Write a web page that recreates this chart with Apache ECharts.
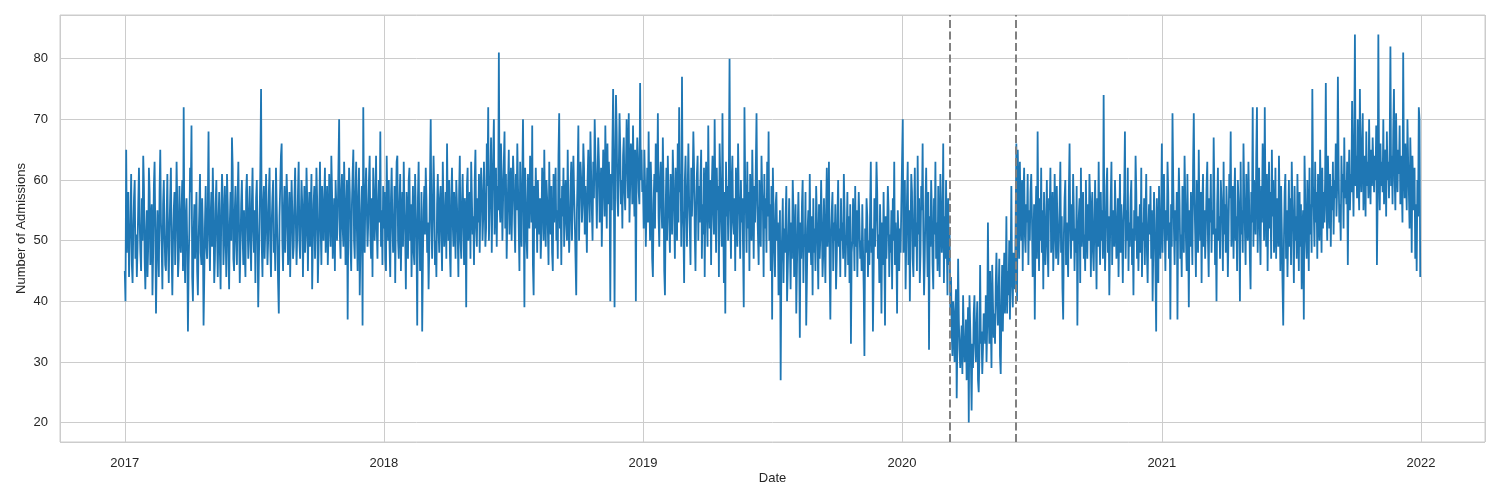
<!DOCTYPE html>
<html>

<head>
  <meta charset="utf-8">
  <title>Admissions</title>
  <script src="https://cdn.jsdelivr.net/npm/echarts@6.0.0/dist/echarts.min.js"></script>
</head>
<style>
  * {
    padding: 0;
    margin: 0;
  }

  #main {
    width: 1500px;
    height: 500px;
    background: #ffffff;
  }
</style>

<body>
  <div id="main"></div>
  <script type="text/javascript">
    // daily admissions, one array per year (Jan 1 onwards)
    var adm2017 = [
      45,40,65,48,55,58,44,50,53,61,46,43,52,57,60,47,51,44,49,56,
      62,53,48,45,57,50,64,59,47,42,51,55,44,49,62,58,46,53,56,41,
      48,59,63,52,38,47,55,50,44,58,65,53,49,42,56,60,51,46,45,54,
      61,49,43,52,57,62,48,41,50,55,58,46,53,63,56,44,47,59,51,48,
      55,60,45,72,50,43,54,57,49,35,46,52,62,58,69,44,40,51,56,47,
      53,58,45,41,50,55,61,48,46,57,52,36,44,53,59,49,47,56,68,51,
      45,54,58,49,62,55,43,47,56,60,51,44,53,58,48,42,55,61,57,46,
      50,59,52,44,61,56,48,42,53,58,50,67,62,47,45,55,59,50,46,57,
      63,52,43,49,56,60,51,46,55,48,44,58,61,53,47,54,59,50,45,56,
      62,52,48,55,43,57,60,51,39,47,54,62,75,49,44,56,59,47,52,61,
      55,46,50,58,62,49,44,53,57,60,48,51,45,62,56,50,43,38,54,59,
      64,66,50,45,55,59,48,53,61,57,46,50,58,44,52,60,55,47,49,57,
      62,53,46,51,58,63,50,47,54,60,56,44,52,59,48,51,62,57,45,53,
      58,49,55,61,42,50,56,59,47,53,62,57,43,48,55,63,52,46,59,54,
      50,57,62,48,53,59,46,51,61,55,49,64,58,47,52,57,45,60,56,50,
      54,62,70,51,47,58,61,52,49,63,57,46,53,60,37,55,62,58,49,45,
      56,61,65,50,47,58,63,52,45,57,62,41,49,55,59,36,72,54,48,58,
      62,55,49,53,60,64,51,47,57,44,62,58,50,54,64,52,47,56,60,53,
      68,49,55,46,59
    ];
    var adm2018 = [
      52,58,47,45,64,55,50,60,49,44,57,62,53,48,51,59,43,55,63,64,
      50,47,56,61,45,52,58,49,63,55,51,42,58,54,47,60,62,50,56,44,
      53,59,48,46,61,55,50,36,57,63,52,45,49,58,35,47,55,59,51,62,
      57,48,53,42,49,60,70,53,47,55,64,58,46,50,44,56,61,52,48,57,
      59,51,45,63,56,49,53,58,47,66,55,50,60,48,44,57,62,53,49,58,
      54,47,60,56,51,44,58,64,50,47,56,61,53,46,57,55,39,59,62,50,
      53,58,47,63,57,51,54,46,60,65,52,49,57,53,61,48,56,62,58,50,
      54,63,57,49,52,66,59,72,50,55,60,67,48,58,64,70,51,57,62,49,
      59,55,81,56,53,66,60,50,57,63,68,52,61,47,54,59,65,51,58,62,
      50,57,64,60,53,48,61,55,66,59,52,45,63,54,49,60,70,56,39,62,
      57,50,47,61,55,52,64,59,53,69,46,41,59,52,62,56,48,60,54,51,
      57,47,52,62,58,50,65,55,49,60,57,52,46,63,54,51,59,48,45,61,
      53,58,62,50,55,47,64,71,52,57,46,59,54,62,49,56,60,53,50,65,
      55,48,52,59,63,50,57,64,58,53,47,41,55,61,69,50,58,63,60,53,
      56,66,62,51,59,54,48,60,65,57,53,68,61,55,50,63,57,70,64,59,
      52,60,67,63,53,58,62,49,57,65,61,54,69,60,52,66,56,63,58,40,
      61,55,66,75,59,39,63,74,68,57,54,62,71,65,56,60,52,64,67,58,
      55,62,70,64,57,71,53,59,66,64,56,69,60,54,65,40,61,67,63,58,
      56,76,60,65,58
    ];
    var adm2019 = [
      60,52,65,59,49,55,62,53,68,57,50,63,58,47,44,56,61,52,66,60,
      58,71,54,49,60,63,56,52,67,59,45,41,55,62,50,64,58,53,48,61,
      56,51,65,60,54,47,62,57,50,66,53,72,58,61,49,77,55,52,43,60,
      64,55,49,58,66,57,52,46,62,54,59,68,62,51,45,56,61,64,50,59,
      53,60,65,47,56,51,62,44,58,63,54,49,69,57,52,60,46,59,64,55,
      51,70,57,48,62,55,59,44,66,60,53,49,71,56,43,58,38,63,54,59,
      50,61,80,55,47,60,64,53,51,57,45,62,56,49,66,58,54,47,60,53,
      57,49,39,72,60,55,48,63,52,58,45,61,54,50,65,57,47,59,53,62,
      71,56,51,46,60,53,49,64,58,55,44,61,52,57,48,63,54,68,50,56,
      45,59,37,62,55,48,44,56,58,50,53,41,49,55,27,46,51,57,43,52,
      48,54,59,40,45,51,57,49,42,53,47,60,55,44,50,56,38,46,52,58,
      49,34,53,47,56,60,43,51,49,58,36,44,52,55,48,61,50,46,54,41,
      57,48,52,45,59,54,49,42,56,47,51,60,53,44,48,57,50,43,55,62,
      49,53,63,46,37,51,55,58,45,53,50,56,42,47,54,60,49,52,44,57,
      50,53,47,61,55,44,49,51,58,46,54,43,56,33,48,50,57,52,45,59,
      49,55,44,51,58,53,47,50,45,56,49,42,31,52,48,57,54,44,50,46,
      55,63,48,52,35,45,57,49,54,63,58,47,51,43,56,50,38,53,46,58,
      49,36,54,47,52,59,55,44,51,48,55,42,57,50,63,46,53,49,38,55,
      51,45,52,48,56
    ];
    var adm2020 = [
      56,70,48,53,60,42,50,57,63,46,55,40,52,61,58,47,44,54,62,49,
      53,45,64,51,57,43,48,59,55,66,50,41,47,56,62,52,44,58,32,54,
      49,60,55,46,42,57,51,63,47,53,45,59,50,44,61,55,48,52,66,43,
      54,47,60,50,41,57,46,52,38,44,35,31,40,37,30,38,42,24,34,47,
      37,32,29,33,36,28,41,34,30,31,37,27,33,39,20,41,36,30,22,33,
      29,38,41,33,30,36,40,27,25,31,46,33,35,28,32,38,37,33,41,30,
      36,53,39,33,45,37,29,46,40,34,38,33,43,48,40,36,41,47,31,28,
      39,46,35,43,48,38,42,54,38,45,41,50,37,46,59,43,39,48,45,42,
      52,66,40,65,58,47,63,54,50,60,45,57,62,51,48,56,53,61,46,55,
      50,58,61,54,44,49,56,37,52,59,47,68,53,45,57,50,62,48,55,42,
      58,51,46,53,60,49,44,57,55,62,48,52,58,45,50,61,54,47,59,52,
      46,50,56,63,48,54,42,37,51,57,60,46,53,49,44,58,66,52,47,56,
      50,61,55,45,52,48,59,36,50,54,57,43,62,49,53,58,47,51,45,60,
      52,47,56,50,61,57,44,54,58,48,45,53,60,51,42,57,49,63,52,46,
      58,50,55,47,74,53,45,51,59,62,48,54,41,50,57,63,46,55,52,49,
      60,54,47,50,57,44,52,61,48,56,51,43,53,58,68,47,55,50,62,45,
      53,49,57,60,46,52,41,55,50,64,58,47,54,45,51,56,48,62,44,53,
      50,57,46,54,61,48,43,52,56,51,59,47,55,40,49,58,53,45,35,57,
      50,43,59,52,47,54
    ];
    var adm2021 = [
      66,48,57,61,52,45,55,50,63,58,47,53,37,56,49,71,60,52,46,55,
      50,58,37,54,62,56,47,51,44,59,53,48,64,57,50,45,61,52,39,55,
      49,58,53,46,62,71,57,51,44,60,52,48,65,54,50,58,43,56,61,49,
      55,47,52,59,63,50,44,57,53,61,48,55,51,67,58,46,52,40,56,62,
      50,54,47,60,57,53,45,63,51,56,48,59,54,44,52,61,57,68,49,55,
      59,47,56,62,50,54,45,60,57,53,40,63,51,55,48,66,58,52,46,61,
      54,50,63,56,47,42,58,53,72,49,60,55,51,64,72,48,57,62,52,46,
      59,53,66,60,50,72,56,49,61,45,55,63,52,58,47,65,54,60,48,51,
      62,47,57,53,49,64,55,45,59,52,43,36,50,58,61,47,55,44,52,60,
      49,57,46,63,56,51,43,59,50,54,47,61,53,45,58,49,56,42,52,55,
      37,64,57,50,47,60,53,45,62,51,56,48,75,59,55,49,63,53,58,47,
      61,54,50,65,56,48,62,52,58,53,60,76,55,50,64,57,52,61,49,59,
      55,63,51,60,57,66,54,59,77,62,53,56,50,64,58,61,52,67,57,60,
      56,63,46,59,65,55,61,58,73,62,54,66,84,59,64,57,70,60,55,75,
      62,58,66,71,55,60,64,54,68,59,63,57,70,61,56,65,59,67,62,58,
      64,60,69,46,57,84,62,55,66,59,63,58,70,56,61,65,54,68,60,63,
      57,66,82,59,64,56,68,75,60,55,71,62,58,65,61,69,56,64,59,53,
      81,62,57,66,60,55,70,63,58,52,67,61,48,64,59,55,62,47,56,45,
      60,54,72,70,44
    ];
    var years = [2017, 2018, 2019, 2020, 2021];
    var yearValues = [adm2017, adm2018, adm2019, adm2020, adm2021];

    // start / end of the restriction period (dashed lines)
    var eventDates = ['2020-03-08', '2020-06-09'];

    var data = [];
    years.forEach(function (yr, k) {
      yearValues[k].forEach(function (v, i) {
        data.push([Date.UTC(yr, 0, 1 + i), v]);
      });
    });

    var day = 24 * 3600 * 1000;
    var xMin = Date.UTC(2017, 0, 1) - 91.25 * day;
    var xMax = Date.UTC(2021, 11, 31) + 91.25 * day;

    var textColor = '#262626';
    var gridColor = '#cccccc';
    var font = 'Liberation Sans, Arial, sans-serif';

    var option = {
      animation: false,
      useUTC: true,
      backgroundColor: '#ffffff',
      grid: {
        left: 60,
        right: 15,
        top: 15,
        bottom: 58,
        show: true,
        borderColor: gridColor,
        borderWidth: 1
      },
      xAxis: {
        type: 'time',
        min: xMin,
        max: xMax,
        minInterval: 365 * day,
        name: 'Date',
        nameLocation: 'middle',
        nameGap: 30,
        nameMoveOverlap: false,
        nameTextStyle: { color: textColor, fontSize: 13, fontFamily: font },
        axisLine: { show: false },
        axisTick: { show: false },
        axisLabel: {
          color: textColor,
          fontSize: 13,
          fontFamily: font,
          margin: 15,
          showMinLabel: false,
          showMaxLabel: false,
          formatter: function (v) {
            return String(new Date(v).getUTCFullYear());
          }
        },
        splitLine: { show: true, lineStyle: { color: gridColor, width: 1 } }
      },
      yAxis: {
        type: 'value',
        min: 16.8,
        max: 87.2,
        splitNumber: 7,
        name: 'Number of Admissions',
        nameLocation: 'middle',
        nameGap: 32,
        nameMoveOverlap: false,
        nameTextStyle: { color: textColor, fontSize: 13, fontFamily: font },
        axisLine: { show: false },
        axisTick: { show: false },
        axisLabel: {
          color: textColor,
          fontSize: 13,
          fontFamily: font,
          margin: 12,
          showMinLabel: false,
          showMaxLabel: false
        },
        splitLine: { show: true, lineStyle: { color: gridColor, width: 1 } }
      },
      series: [{
        type: 'line',
        data: data,
        showSymbol: false,
        sampling: null,
        lineStyle: { color: '#1f77b4', width: 1.8 },
        itemStyle: { color: '#1f77b4' },
        markLine: {
          silent: true,
          symbol: ['none', 'none'],
          label: { show: false },
          lineStyle: { color: '#808080', type: [8, 3.5], width: 2 },
          data: eventDates.map(function (d) { return { xAxis: d }; })
        }
      }]
    };

    var myChart = echarts.init(document.getElementById('main'));
    myChart.setOption(option);
  </script>
</body>

</html>
